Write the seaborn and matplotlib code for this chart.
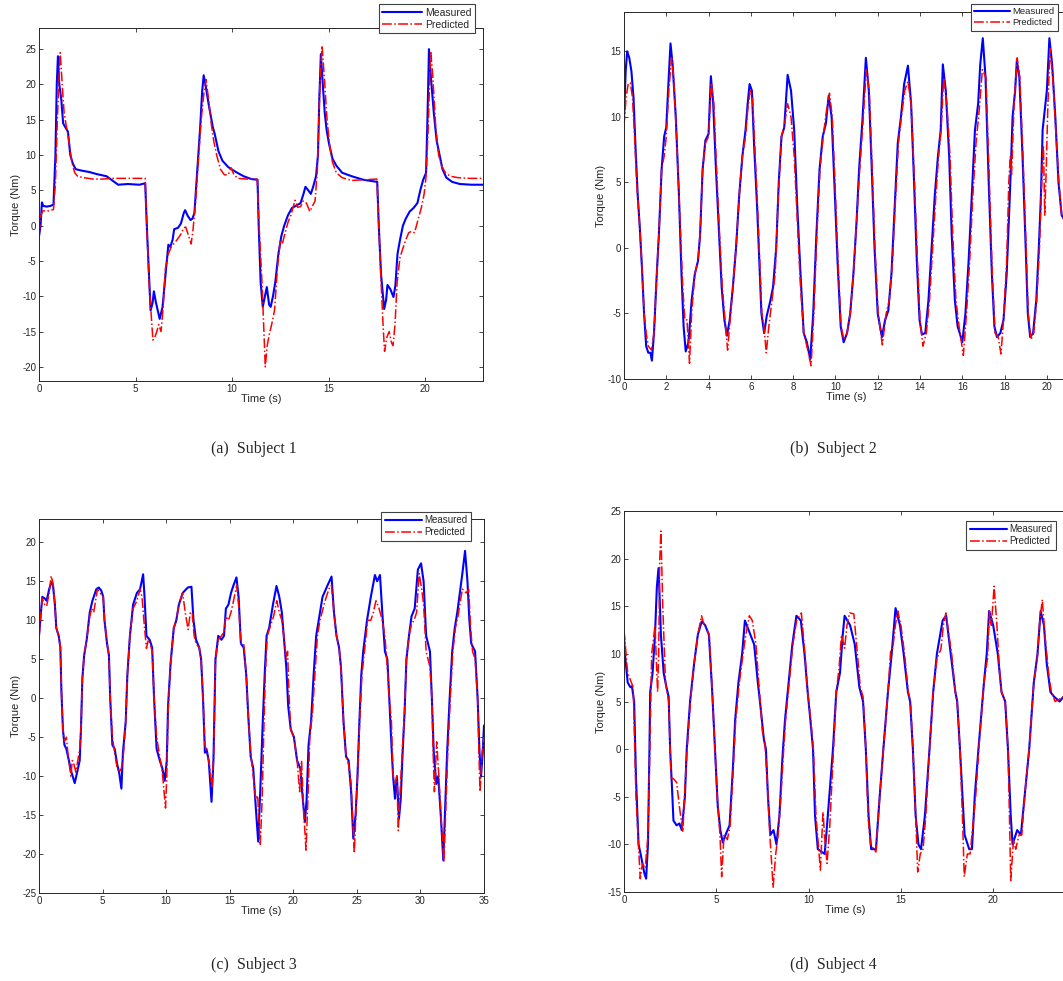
import numpy as np
import matplotlib
matplotlib.use("Agg")
import matplotlib.pyplot as plt
import seaborn as sns

sns.set_style("ticks")
plt.rcParams["font.family"] = ["Liberation Sans", "DejaVu Sans"]
plt.rcParams["axes.unicode_minus"] = False

# ---- data: (time s, torque Nm) ----
s1_measured = np.array([
    (0.0, -1.5), (0.08, 0), (0.15, 3.3), (0.22, 2.8), (0.4, 2.7), (0.6, 2.8), (0.75, 3.0),
    (0.85, 10), (0.92, 20), (0.98, 24), (1.05, 20), (1.15, 18), (1.25, 14.5), (1.35, 14),
    (1.5, 13.3), (1.62, 10), (1.75, 8.8), (1.9, 8), (2.2, 7.8), (2.6, 7.6), (3.0, 7.3),
    (3.5, 7.0), (3.8, 6.4), (4.1, 5.8), (4.6, 5.9), (5.2, 5.8), (5.5, 6.0), (5.6, -1),
    (5.7, -7), (5.78, -12), (5.88, -11), (5.95, -9.3), (6.05, -10.8), (6.15, -12),
    (6.25, -13.2), (6.4, -11.5), (6.55, -7), (6.7, -2.7), (6.8, -3), (6.92, -2), (7.0, -0.5),
    (7.2, -0.3), (7.35, 0.3), (7.5, 1.8), (7.57, 2.2), (7.7, 1.4), (7.85, 0.8), (7.95, 1.0),
    (8.05, 1.8), (8.2, 8), (8.35, 14), (8.45, 19), (8.53, 21.3), (8.65, 19.5), (8.8, 17),
    (9.0, 14), (9.1, 13), (9.3, 10.5), (9.5, 9.2), (9.8, 8.3), (10.2, 7.6), (10.6, 7.0),
    (11.0, 6.6), (11.32, 6.5), (11.38, 0), (11.48, -8), (11.59, -11.5), (11.7, -10),
    (11.8, -8.7), (11.92, -11.2), (12.0, -11.5), (12.12, -10), (12.24, -8), (12.4, -4),
    (12.55, -1.5), (12.7, 0), (12.9, 1.5), (13.1, 2.5), (13.3, 2.8), (13.55, 3.2),
    (13.7, 4.5), (13.8, 5.5), (13.95, 5), (14.08, 4.5), (14.2, 5.5), (14.35, 7), (14.45, 10),
    (14.52, 18), (14.6, 24.3), (14.7, 20), (14.8, 16), (14.9, 13.5), (15.03, 11.5),
    (15.2, 9.5), (15.4, 8.5), (15.7, 7.5), (16.2, 7.0), (16.8, 6.5), (17.3, 6.3),
    (17.52, 6.2), (17.6, 0), (17.72, -7), (17.88, -11.8), (17.98, -10.5), (18.05, -8.4),
    (18.2, -9), (18.36, -10.1), (18.46, -8.5), (18.57, -4), (18.7, -2), (18.85, 0),
    (19.0, 1), (19.2, 2), (19.4, 2.5), (19.6, 3.2), (19.75, 5), (19.9, 6.5), (20.05, 7.5),
    (20.12, 15), (20.2, 25), (20.3, 21), (20.45, 16), (20.6, 12), (20.75, 10), (20.9, 8),
    (21.1, 6.8), (21.4, 6.2), (21.8, 5.9), (22.4, 5.8), (23.0, 5.8)])

s1_predicted = np.array([
    (0.0, -1.2), (0.1, 1.5), (0.2, 2.1), (0.5, 2.1), (0.75, 2.3), (0.85, 6), (0.95, 15),
    (1.05, 22), (1.1, 24.5), (1.2, 20), (1.3, 16), (1.42, 14), (1.55, 12), (1.7, 9),
    (1.85, 7.5), (2.0, 7.0), (2.3, 6.8), (2.8, 6.6), (3.3, 6.6), (3.8, 6.7), (4.5, 6.7),
    (5.0, 6.7), (5.5, 6.7), (5.58, 0), (5.7, -8), (5.82, -13), (5.9, -16.2), (6.0, -15.8),
    (6.1, -15), (6.2, -14), (6.32, -15), (6.42, -12), (6.55, -6), (6.7, -4), (6.85, -3),
    (7.0, -2.5), (7.15, -2), (7.35, -1.2), (7.5, -0.3), (7.6, -0.2), (7.72, -1.2),
    (7.88, -2.6), (7.98, -0.5), (8.1, 3), (8.25, 9), (8.4, 15), (8.55, 19), (8.65, 20.7),
    (8.78, 18), (8.92, 14.5), (9.05, 12), (9.22, 9.8), (9.4, 8), (9.6, 7.2), (9.8, 7.2),
    (9.95, 8.2), (10.1, 7.2), (10.3, 6.7), (10.8, 6.6), (11.3, 6.6), (11.4, 0), (11.55, -8),
    (11.65, -15), (11.72, -20), (11.82, -17), (11.92, -15.5), (12.05, -14), (12.2, -12),
    (12.35, -6), (12.5, -2), (12.6, -2.6), (12.75, -1), (12.9, 0.5), (13.05, 1.5),
    (13.26, 3.6), (13.4, 2.6), (13.55, 2.7), (13.68, 3.5), (13.85, 3.2), (14.03, 2),
    (14.15, 2.7), (14.3, 3.5), (14.42, 8), (14.55, 20), (14.66, 25.5), (14.78, 21),
    (14.92, 15), (15.05, 11.5), (15.2, 9), (15.4, 7.5), (15.7, 6.8), (16.2, 6.4),
    (16.8, 6.5), (17.5, 6.6), (17.6, 0), (17.72, -8), (17.82, -14), (17.9, -17.8),
    (18.02, -15.8), (18.14, -15), (18.25, -16.5), (18.34, -17), (18.44, -14), (18.55, -8),
    (18.7, -4.5), (18.85, -3.2), (19.0, -2), (19.15, -1), (19.3, -0.8), (19.45, -1),
    (19.6, 0.5), (19.8, 2.5), (19.95, 4.5), (20.05, 7), (20.15, 13), (20.25, 22),
    (20.3, 24.5), (20.4, 21), (20.55, 14), (20.7, 10), (20.85, 8.5), (21.05, 7.5),
    (21.3, 7), (21.7, 6.8), (22.3, 6.7), (23.0, 6.7)])

s2_measured = np.array([
    (0.0, 9.8), (0.08, 13.5), (0.15, 15.0), (0.25, 14.5), (0.35, 13.5), (0.45, 11.5),
    (0.55, 7.5), (0.65, 4), (0.75, 1.5), (0.85, -1.5), (0.95, -5), (1.05, -7.5), (1.15, -8.0),
    (1.25, -8.0), (1.32, -8.6), (1.42, -6.5), (1.55, -2), (1.65, 1), (1.78, 6), (1.9, 8.5),
    (2.0, 9.2), (2.1, 12.5), (2.2, 15.6), (2.3, 14), (2.45, 10), (2.6, 4), (2.72, -2),
    (2.82, -6), (2.92, -7.9), (3.05, -7.2), (3.2, -4), (3.35, -2), (3.5, -1), (3.6, 1),
    (3.72, 6), (3.85, 8.2), (4.0, 8.7), (4.11, 13.1), (4.22, 11), (4.35, 6), (4.5, 1),
    (4.62, -3), (4.75, -5.5), (4.87, -6.7), (5.0, -5.5), (5.15, -3), (5.3, 0), (5.45, 4),
    (5.6, 7), (5.75, 9), (5.85, 11), (5.94, 12.5), (6.05, 12), (6.15, 8), (6.3, 3),
    (6.4, -1), (6.5, -5), (6.63, -6.5), (6.75, -5.2), (6.9, -4.2), (7.05, -3), (7.2, 0),
    (7.32, 5), (7.45, 8.5), (7.58, 9.2), (7.74, 13.2), (7.9, 12), (8.05, 9), (8.2, 3),
    (8.35, -2), (8.5, -6.5), (8.65, -7.2), (8.81, -8.5), (8.95, -5), (9.1, 1), (9.25, 6),
    (9.4, 8.5), (9.55, 9.5), (9.68, 11.6), (9.82, 10), (9.95, 5), (10.1, -1), (10.25, -6),
    (10.39, -7.2), (10.55, -6.5), (10.7, -5), (10.85, -2), (11.0, 2), (11.12, 6),
    (11.28, 9.8), (11.44, 14.5), (11.58, 12), (11.72, 6), (11.85, 0), (12.0, -5),
    (12.2, -6.8), (12.35, -5.5), (12.5, -4.8), (12.65, -2), (12.8, 3), (12.95, 8),
    (13.1, 10), (13.25, 12.5), (13.43, 13.9), (13.58, 11), (13.72, 5), (13.85, -1),
    (13.98, -5.5), (14.09, -6.6), (14.25, -6.5), (14.4, -4), (14.55, 0), (14.7, 4),
    (14.85, 7), (14.98, 9), (15.08, 14), (15.22, 12), (15.38, 7), (15.5, 1), (15.65, -4),
    (15.78, -6), (15.88, -6.5), (16.0, -7.2), (16.15, -5), (16.3, -1), (16.45, 4), (16.6, 9),
    (16.75, 11), (16.85, 14), (16.97, 16), (17.1, 13), (17.25, 5), (17.4, -2), (17.52, -6),
    (17.64, -6.8), (17.8, -6.5), (17.95, -5.5), (18.1, -2), (18.25, 4), (18.38, 10),
    (18.5, 12), (18.58, 14.3), (18.7, 13), (18.85, 7), (19.0, 0), (19.1, -5), (19.21, -6.8),
    (19.35, -6.5), (19.5, -4), (19.62, 0), (19.72, 4), (19.8, 9), (19.9, 10.5), (20.0, 12),
    (20.12, 16), (20.25, 14), (20.4, 10), (20.55, 5), (20.7, 2.5), (20.8, 2.2)])

s2_predicted = np.array([
    (0.0, 9.3), (0.1, 11.5), (0.2, 12.5), (0.3, 12.6), (0.4, 11.5), (0.5, 8.5), (0.6, 5),
    (0.75, 1.5), (0.85, -1.5), (0.95, -5), (1.05, -6.5), (1.15, -7.5), (1.3, -7.8),
    (1.42, -6.5), (1.55, -2), (1.65, 1), (1.78, 6), (1.9, 7), (2.0, 8.5), (2.12, 12),
    (2.25, 14.5), (2.35, 13), (2.5, 8), (2.65, 2), (2.78, -3), (2.88, -5.5), (2.98, -5.5),
    (3.1, -8.8), (3.2, -5), (3.35, -2), (3.5, -1), (3.6, 1), (3.72, 6), (3.85, 8), (4.0, 8.5),
    (4.13, 12.6), (4.25, 11), (4.38, 6), (4.52, 1), (4.65, -3), (4.78, -5.5), (4.9, -7.8),
    (5.02, -5.5), (5.15, -3), (5.3, 0), (5.45, 4), (5.6, 7), (5.75, 8.5), (5.85, 10.5),
    (5.97, 12), (6.08, 11.5), (6.18, 8), (6.32, 3), (6.42, -1), (6.52, -5), (6.62, -6),
    (6.73, -8), (6.85, -6), (7.0, -4), (7.15, -2), (7.3, 4), (7.45, 8.5), (7.6, 9.5),
    (7.74, 11), (7.9, 10), (8.05, 7), (8.2, 2), (8.35, -3), (8.5, -6.5), (8.65, -7.5),
    (8.85, -9), (8.98, -5), (9.12, 1), (9.27, 6), (9.42, 8.5), (9.58, 10.5), (9.72, 11.8),
    (9.85, 10), (9.98, 5), (10.12, -1), (10.27, -6), (10.4, -7), (10.55, -6.5), (10.7, -5),
    (10.85, -2), (11.0, 2), (11.15, 6), (11.3, 9.5), (11.46, 13.6), (11.6, 12), (11.74, 6),
    (11.87, 0), (12.02, -5), (12.22, -7.4), (12.4, -5), (12.55, -4), (12.7, -1), (12.85, 4),
    (12.98, 8), (13.12, 10), (13.28, 12), (13.43, 12.7), (13.58, 11), (13.74, 5),
    (13.88, -1), (14.0, -5.5), (14.14, -7.5), (14.3, -6.5), (14.45, -4), (14.6, 0),
    (14.75, 4), (14.88, 7), (15.0, 9), (15.12, 13), (15.27, 11), (15.42, 7), (15.55, 1),
    (15.7, -4), (15.85, -6), (16.05, -8.2), (16.2, -5), (16.35, -1), (16.5, 4), (16.65, 8),
    (16.8, 10.5), (16.95, 13.6), (17.12, 13), (17.28, 5), (17.42, -2), (17.55, -6.5),
    (17.7, -6.8), (17.83, -8.1), (17.95, -5.5), (18.1, -1), (18.2, 5), (18.27, 7),
    (18.33, 5.5), (18.45, 11), (18.6, 14.5), (18.72, 13), (18.87, 7), (19.02, 0),
    (19.12, -5), (19.25, -7), (19.38, -6.5), (19.52, -4), (19.65, 0), (19.78, 6),
    (19.84, 7.8), (19.9, 2.5), (19.97, 6), (20.05, 11), (20.15, 15.2), (20.28, 13),
    (20.42, 9), (20.57, 5), (20.7, 2.5), (20.8, 2.2)])

s3_measured = np.array([
    (0.0, 8), (0.15, 11), (0.26, 13), (0.45, 12.8), (0.6, 12.5), (0.8, 14), (0.97, 14.9),
    (1.1, 14.5), (1.25, 12), (1.36, 9), (1.55, 8), (1.68, 6.5), (1.76, 1), (1.88, -4),
    (2.0, -6), (2.15, -6.5), (2.35, -8), (2.55, -9.5), (2.81, -10.9), (3.0, -9.5), (3.2, -8),
    (3.3, -4), (3.41, 2.5), (3.55, 5.5), (3.75, 7.5), (3.99, 11), (4.2, 12.5), (4.51, 14),
    (4.7, 14.2), (4.9, 13.8), (5.05, 13), (5.15, 10), (5.35, 7), (5.5, 5.5), (5.6, 0),
    (5.77, -6), (5.95, -6.5), (6.15, -8.5), (6.3, -9.5), (6.48, -11.6), (6.6, -7),
    (6.82, -3), (6.95, 3), (7.15, 8), (7.4, 12), (7.7, 13.5), (7.95, 14), (8.19, 15.9),
    (8.3, 13), (8.45, 8), (8.7, 7.5), (8.9, 6.5), (9.05, 0), (9.25, -6.5), (9.5, -8),
    (9.7, -9), (9.89, -10.6), (10.05, -8), (10.15, -1), (10.35, 4.5), (10.6, 9), (10.8, 10),
    (11.0, 12), (11.3, 13.5), (11.7, 14.2), (11.99, 14.3), (12.15, 10), (12.35, 7.5),
    (12.6, 6.5), (12.75, 5), (12.9, 0), (13.05, -7), (13.17, -6.5), (13.35, -8),
    (13.57, -13.3), (13.72, -8), (13.88, 5), (14.1, 8), (14.35, 7.5), (14.55, 8),
    (14.7, 11.5), (14.9, 12), (15.1, 13.5), (15.3, 14.5), (15.53, 15.5), (15.7, 13),
    (15.88, 7), (16.1, 6.5), (16.3, 3), (16.45, -2), (16.65, -7.5), (16.85, -9),
    (17.05, -14), (17.24, -18.4), (17.4, -12), (17.6, -3), (17.75, 3), (17.9, 8), (18.1, 9),
    (18.4, 12), (18.68, 14.4), (18.9, 13), (19.1, 11), (19.25, 8), (19.45, 4), (19.6, -1),
    (19.8, -4), (20.05, -5), (20.3, -8), (20.55, -9), (20.7, -12), (20.91, -15.9),
    (21.05, -13), (21.2, -6), (21.4, -3), (21.6, 3), (21.8, 8), (22.0, 10), (22.3, 13),
    (22.7, 14.5), (23.01, 15.6), (23.2, 11), (23.4, 8), (23.6, 6.5), (23.75, 4),
    (23.95, -3), (24.15, -7.5), (24.35, -8), (24.55, -12), (24.72, -18), (24.9, -15),
    (25.05, -10), (25.2, -3), (25.35, 3), (25.5, 6), (25.8, 10), (26.1, 13), (26.42, 15.8),
    (26.6, 15), (26.82, 15.8), (27.0, 11), (27.21, 6), (27.4, 5), (27.55, 0), (27.72, -6),
    (27.85, -10), (28.0, -12.9), (28.15, -10), (28.31, -15.5), (28.45, -13), (28.6, -7),
    (28.75, -2), (28.9, 5), (29.1, 8), (29.3, 10.5), (29.55, 11.5), (29.8, 16.5),
    (30.05, 17.3), (30.25, 15), (30.45, 8), (30.6, 7), (30.75, 6), (30.9, 0), (31.05, -7),
    (31.25, -11), (31.4, -10), (31.6, -15), (31.8, -20.8), (31.95, -14), (32.1, -7),
    (32.3, 0), (32.5, 6), (32.7, 9), (32.9, 11), (33.1, 13.5), (33.3, 16), (33.51, 18.9),
    (33.7, 15), (33.85, 10), (34.0, 7), (34.3, 6), (34.5, 0), (34.65, -7), (34.77, -10),
    (34.9, -7), (35.0, -3.5)])

s3_predicted = np.array([
    (0.0, 7.8), (0.15, 11), (0.26, 12.8), (0.45, 12), (0.6, 11.8), (0.8, 13.5), (0.95, 15.7),
    (1.1, 14.8), (1.25, 12), (1.36, 9), (1.55, 8), (1.68, 6.5), (1.76, 1), (1.88, -4),
    (2.0, -5.5), (2.15, -5), (2.3, -7.5), (2.5, -10), (2.62, -8), (2.75, -8.5), (2.9, -9.5),
    (3.05, -8), (3.2, -6.5), (3.3, -4), (3.41, 2.5), (3.55, 5.5), (3.75, 7.5), (3.99, 10.5),
    (4.15, 11.5), (4.3, 11), (4.45, 12.5), (4.6, 14), (4.8, 13.5), (5.05, 13), (5.15, 10),
    (5.35, 7), (5.5, 5.5), (5.6, 0), (5.77, -5), (5.95, -7), (6.15, -9), (6.3, -9.5),
    (6.48, -9), (6.65, -7), (6.82, -3), (6.95, 3), (7.15, 8), (7.4, 11.5), (7.7, 12.5),
    (7.95, 14), (8.1, 13), (8.3, 9), (8.45, 6.4), (8.6, 7.5), (8.75, 7), (8.9, 6), (9.05, 0),
    (9.25, -5), (9.5, -7.5), (9.7, -9.5), (9.95, -14.1), (10.05, -10), (10.15, -2),
    (10.35, 4.5), (10.6, 9), (10.8, 10), (11.0, 12), (11.3, 13.5), (11.5, 11), (11.73, 8.8),
    (11.9, 11), (12.05, 11), (12.2, 8), (12.35, 7), (12.6, 6.5), (12.75, 5), (12.9, 0),
    (13.05, -6), (13.2, -7), (13.4, -8.5), (13.6, -11.5), (13.75, -7), (13.88, 5),
    (14.1, 7.5), (14.35, 8), (14.55, 8.5), (14.7, 10.5), (14.9, 10), (15.1, 11),
    (15.3, 12.5), (15.55, 14.5), (15.7, 12), (15.88, 7), (16.1, 7), (16.3, 3), (16.45, -2),
    (16.65, -7), (16.85, -10), (17.05, -13), (17.2, -12.5), (17.4, -18.9), (17.55, -13),
    (17.7, -3), (17.8, 3), (17.95, 8), (18.15, 9), (18.45, 10.5), (18.7, 12.5), (18.9, 11),
    (19.1, 10), (19.25, 8), (19.45, 5), (19.55, 6), (19.65, 1), (19.8, -4), (20.05, -5),
    (20.3, -8), (20.5, -12), (20.65, -8), (20.8, -14), (21.0, -19.5), (21.15, -13),
    (21.3, -5), (21.5, -2), (21.7, 3), (21.9, 8), (22.1, 10), (22.5, 12.5), (22.8, 14),
    (23.0, 14.5), (23.2, 11), (23.4, 8), (23.6, 6.5), (23.75, 4), (23.95, -3),
    (24.15, -7.5), (24.35, -8.5), (24.55, -11), (24.8, -19.9), (24.95, -14), (25.1, -8),
    (25.25, -2), (25.4, 3), (25.6, 6), (25.85, 10), (26.1, 10), (26.3, 11), (26.5, 12.5),
    (26.75, 11.5), (27.0, 10), (27.2, 8), (27.35, 5), (27.55, 0), (27.72, -3), (27.85, -10),
    (28.0, -11), (28.15, -10), (28.26, -17), (28.4, -12), (28.6, -6), (28.75, -2),
    (28.9, 5), (29.1, 8), (29.3, 9.5), (29.5, 10), (29.7, 11), (29.9, 16), (30.1, 14),
    (30.25, 12), (30.45, 6), (30.6, 5), (30.75, 4), (30.9, 0), (31.0, -7), (31.1, -12),
    (31.28, -5.6), (31.45, -10), (31.65, -16), (31.85, -21), (32.0, -14), (32.15, -7),
    (32.35, 0), (32.55, 6), (32.75, 9), (32.95, 10.5), (33.15, 12.5), (33.3, 14),
    (33.6, 13.5), (33.8, 14), (33.95, 9), (34.1, 6), (34.3, 5), (34.5, 0), (34.6, -7),
    (34.69, -12), (34.85, -7), (35.0, -5)])

s4_measured = np.array([
    (0.0, 12), (0.05, 10), (0.2, 7), (0.35, 6.5), (0.43, 6.6), (0.55, 5), (0.65, -3),
    (0.79, -10), (0.9, -11), (1.0, -12), (1.1, -13), (1.2, -13.6), (1.3, -10), (1.38, 0),
    (1.42, 6), (1.55, 8), (1.68, 12), (1.78, 17), (1.87, 19), (1.95, 15), (2.0, 12),
    (2.15, 8), (2.3, 6.5), (2.42, 5.5), (2.5, 0), (2.6, -4), (2.68, -7.5), (2.85, -8),
    (3.0, -7.8), (3.13, -8.5), (3.3, -5), (3.4, 0), (3.58, 5), (3.8, 9), (4.0, 12),
    (4.21, 13.4), (4.4, 13), (4.6, 12), (4.78, 6), (4.93, 0), (5.08, -6), (5.22, -8.5),
    (5.35, -9.8), (5.5, -9), (5.72, -8), (5.9, -2), (6.02, 3), (6.2, 7), (6.4, 10),
    (6.55, 13.5), (6.75, 12.5), (7.05, 11), (7.25, 7), (7.42, 4), (7.58, 1), (7.69, 0),
    (7.8, -5), (7.93, -9), (8.1, -8.5), (8.26, -10), (8.42, -7), (8.58, -1), (8.72, 3),
    (8.92, 7), (9.12, 11), (9.34, 14), (9.58, 13.5), (9.78, 10), (9.95, 6), (10.1, 3),
    (10.24, 0), (10.35, -7), (10.5, -10.5), (10.87, -11), (11.0, -8), (11.32, 0), (11.5, 6),
    (11.7, 8), (11.85, 12), (11.95, 14), (12.25, 13), (12.5, 11), (12.75, 6.5), (12.95, 5),
    (13.1, 0), (13.25, -7), (13.39, -10.5), (13.65, -10.5), (13.85, -5), (14.05, 0),
    (14.3, 6), (14.5, 10), (14.71, 14.8), (14.95, 13), (15.15, 10), (15.38, 6), (15.5, 5),
    (15.65, 0), (15.8, -7), (15.95, -10), (16.09, -10.5), (16.3, -7), (16.55, 0),
    (16.75, 6), (16.95, 10), (17.26, 13.5), (17.45, 14), (17.7, 10), (17.95, 6), (18.05, 5),
    (18.2, 0), (18.45, -9), (18.7, -10.5), (18.85, -10.5), (19.0, -5), (19.2, 0), (19.5, 7),
    (19.65, 10), (19.78, 14.5), (20.0, 13), (20.25, 10), (20.45, 6), (20.65, 5), (20.8, 0),
    (20.95, -7), (21.05, -10), (21.3, -8.5), (21.5, -9), (21.7, -5), (21.95, 0), (22.2, 7),
    (22.4, 10), (22.57, 14.5), (22.75, 13), (22.9, 9), (23.1, 6), (23.3, 5.5), (23.6, 5),
    (23.8, 5.5)])

s4_predicted = np.array([
    (0.0, 12.5), (0.2, 8), (0.4, 7), (0.5, 6.5), (0.65, -5), (0.88, -13.6), (1.0, -12),
    (1.15, -12.5), (1.3, -9), (1.4, 0), (1.5, 10), (1.6, 11.6), (1.68, 13), (1.78, 8),
    (1.82, 6), (1.88, 10), (1.94, 20), (2.0, 22.9), (2.1, 15), (2.25, 7), (2.42, 5),
    (2.55, -3), (2.68, -3.1), (2.85, -3.5), (3.0, -6), (3.19, -8.7), (3.3, -4), (3.42, 0),
    (3.6, 5), (3.8, 9), (4.0, 12), (4.2, 14), (4.35, 13), (4.5, 12.5), (4.62, 12),
    (4.78, 6), (4.93, 0), (5.05, -5), (5.2, -9), (5.29, -13.4), (5.42, -9), (5.6, -9.5),
    (5.75, -8), (5.92, -2), (6.05, 3), (6.25, 7), (6.45, 10), (6.6, 12), (6.79, 14),
    (6.95, 13.5), (7.15, 11), (7.3, 7), (7.42, 4), (7.5, 1.8), (7.62, 1), (7.75, -3),
    (7.9, -9), (8.08, -14.5), (8.22, -11), (8.35, -9), (8.5, -5), (8.62, -1), (8.75, 3),
    (8.95, 7), (9.15, 11), (9.35, 13.5), (9.61, 14.3), (9.8, 10), (9.95, 6), (10.12, 3),
    (10.26, 0), (10.4, -7), (10.64, -12.7), (10.78, -6.6), (10.9, -10), (11.0, -12),
    (11.15, -8), (11.35, 0), (11.5, 6), (11.65, 8.5), (11.78, 12), (11.95, 10.6),
    (12.08, 13), (12.22, 14.3), (12.45, 14.2), (12.6, 11), (12.8, 6.5), (12.95, 5.5),
    (13.1, 0), (13.22, -7), (13.35, -10), (13.65, -10.8), (13.85, -5), (14.05, 0), (14.3, 6),
    (14.45, 10.5), (14.56, 10.6), (14.7, 13), (14.83, 14.5), (15.0, 13), (15.2, 10),
    (15.4, 6), (15.52, 5), (15.65, 0), (15.8, -7), (15.91, -12.9), (16.05, -11),
    (16.2, -10.5), (16.35, -7), (16.55, 0), (16.75, 6), (16.95, 9.5), (17.17, 10.5),
    (17.3, 13), (17.44, 14.3), (17.6, 12), (17.75, 10), (17.95, 6), (18.05, 5), (18.2, 0),
    (18.35, -8), (18.43, -13.4), (18.6, -11), (18.75, -11), (18.9, -8), (19.05, -5),
    (19.22, 0), (19.5, 7), (19.69, 9.5), (19.8, 14.5), (19.9, 13), (20.05, 17.1), (20.2, 13),
    (20.35, 8), (20.45, 6), (20.65, 5), (20.8, 0), (20.88, -7), (20.95, -13.8), (21.1, -9.5),
    (21.22, -10.5), (21.4, -9), (21.55, -9), (21.7, -5), (21.95, 0), (22.2, 7), (22.39, 9.5),
    (22.5, 13), (22.66, 15.7), (22.8, 12), (23.0, 8), (23.15, 6), (23.35, 5), (23.55, 5.2),
    (23.8, 5.5)])

captions = ["(a)  Subject 1", "(b)  Subject 2", "(c)  Subject 3", "(d)  Subject 4"]
series_labels = ["Measured", "Predicted"]

# panel layout (figure fractions) and axis setup
panels = [
    dict(meas=s1_measured, pred=s1_predicted, rect=[0.0367, 0.6116, 0.4177, 0.3599],
         xlim=(0, 23), ylim=(-22, 28), xticks=np.arange(0, 21, 5), yticks=np.arange(-20, 26, 5),
         leg=(0.4469, 0.9959), legfs=7.5, cap=(0.239, 1 - 449 / 981)),
    dict(meas=s2_measured, pred=s2_predicted, rect=[0.587, 0.6137, 0.4177, 0.3741],
         xlim=(0, 21), ylim=(-10, 18), xticks=np.arange(0, 21, 2), yticks=np.arange(-10, 16, 5),
         leg=(0.9953, 0.9959), legfs=6.8, cap=(0.784, 1 - 449 / 981)),
    dict(meas=s3_measured, pred=s3_predicted, rect=[0.0367, 0.0897, 0.4186, 0.3813],
         xlim=(0, 35), ylim=(-25, 23), xticks=np.arange(0, 36, 5), yticks=np.arange(-25, 21, 5),
         leg=(0.4431, 0.4781), legfs=7, cap=(0.239, 1 - 965 / 981)),
    dict(meas=s4_measured, pred=s4_predicted, rect=[0.587, 0.0907, 0.4168, 0.3884],
         xlim=(0, 24), ylim=(-15, 25), xticks=np.arange(0, 21, 5), yticks=np.arange(-15, 26, 5),
         leg=(0.9934, 0.4689), legfs=7, cap=(0.784, 1 - 965 / 981)),
]

fig = plt.figure(figsize=(10.63, 9.81), dpi=100)

for p, cap in zip(panels, captions):
    ax = fig.add_axes(p["rect"])
    sns.lineplot(x=p["meas"][:, 0], y=p["meas"][:, 1], ax=ax, color=(0, 0, 1),
                 linewidth=1.5, sort=False, estimator=None, label=series_labels[0])
    sns.lineplot(x=p["pred"][:, 0], y=p["pred"][:, 1], ax=ax, color=(1, 0, 0),
                 linewidth=1.1, linestyle="-.", sort=False, estimator=None, label=series_labels[1])
    ax.set_xlim(*p["xlim"])
    ax.set_ylim(*p["ylim"])
    ax.set_xticks(p["xticks"])
    ax.set_yticks(p["yticks"])
    ax.tick_params(direction="in", top=True, right=True, length=3, width=0.6,
                   labelsize=7, colors="0.15", pad=2)
    for s in ax.spines.values():
        s.set_visible(True)
        s.set_linewidth(0.7)
        s.set_color("0.15")
    ax.set_xlabel("Time (s)", fontsize=8, color="0.15", labelpad=0)
    ax.set_ylabel("Torque (Nm)", fontsize=8, color="0.15", labelpad=1)
    leg = ax.legend(loc="upper right", bbox_to_anchor=p["leg"], bbox_transform=fig.transFigure,
                    fontsize=p["legfs"], frameon=True, fancybox=False, framealpha=1,
                    edgecolor="0.25", handlelength=3.8, borderpad=0.35, labelspacing=0.2,
                    handletextpad=0.3, borderaxespad=0)
    leg.get_frame().set_linewidth(0.8)
    fig.text(p["cap"][0], p["cap"][1], cap, ha="center", va="center",
             fontsize=11.5, family="Liberation Serif")

fig.savefig("out.png", dpi=100)
